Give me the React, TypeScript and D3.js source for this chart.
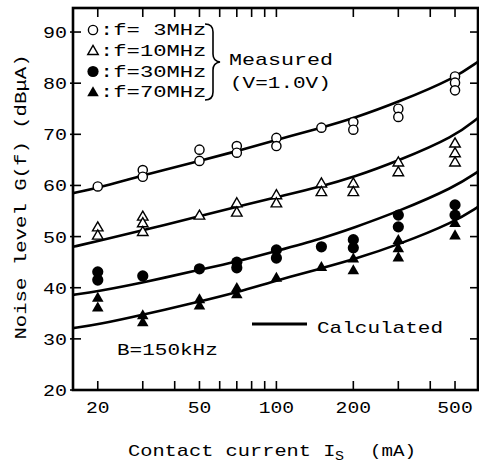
import React from "react";
import * as d3 from "d3";

const W = 479;
const H = 465;
const M = { left: 73, right: 478, top: 8, bottom: 390 };

// measured currents (mA) and levels (dBuA), several repeats per current
const currents = [20, 30, 50, 70, 100, 150, 200, 300, 500];
const meas3 = [[59.8], [63.0, 61.7], [67.0, 64.8], [67.7, 66.4], [69.3, 67.7], [71.3], [72.4, 70.9], [75.0, 73.4], [81.3, 80.1, 78.6]];
const meas10 = [[51.9, 50.3], [54.0, 52.7, 51.0], [54.2], [56.6, 54.8], [58.2, 56.6], [60.5, 58.8], [60.5, 58.8], [64.6, 62.7], [68.3, 66.4, 64.6]];
const meas30 = [[43.1, 41.5], [42.3], [43.7], [45.0, 43.9], [47.4, 45.8], [48.0], [49.4, 47.8], [54.2, 51.9], [56.2, 54.2]];
const meas70 = [[38.1, 36.2], [34.7, 33.3], [37.8, 36.6], [40.0, 38.8], [42.0], [44.1], [45.8, 43.5], [49.4, 47.8, 46.0], [52.7, 50.3]];

// calculated curves
const calcI = [16, 20, 30, 50, 70, 100, 150, 200, 300, 500, 615];
const calc3 = [58.5, 59.5, 62.0, 64.8, 66.7, 68.9, 71.3, 73.1, 76.3, 81.0, 84.2];
const calc10 = [48.0, 49.1, 51.2, 54.0, 55.8, 57.7, 59.8, 61.6, 64.8, 69.6, 73.2];
const calc30 = [38.6, 39.3, 41.0, 43.5, 45.1, 47.2, 49.6, 51.7, 54.9, 59.7, 62.7];
const calc70 = [32.1, 32.8, 34.7, 37.3, 39.1, 41.4, 43.8, 45.5, 48.4, 52.9, 55.8];

const xTicks = [20, 30, 40, 50, 60, 70, 80, 90, 100, 200, 300, 400, 500];
const xLabels = [20, 50, 100, 200, 500];
const yTicks = [20, 30, 40, 50, 60, 70, 80, 90];
const legendLabels = [":f= 3MHz", ":f=10MHz", ":f=30MHz", ":f=70MHz"];

const FONT = "'Courier New', 'Liberation Mono', monospace";

const x = d3.scaleLog().domain([16, 615]).range([M.left, M.right]);
const y = d3.scaleLinear().domain([20, 94.7]).range([M.bottom, M.top]);

const triPath = d3.symbol().type(d3.symbolTriangle).size(48)()!;
const triPathF = d3.symbol().type(d3.symbolTriangle).size(58)()!;

type Kind = "oc" | "ot" | "fc" | "ft";

const Marker = ({ cx, cy, kind }: { cx: number; cy: number; kind: Kind }) => {
  if (kind === "oc") return <circle cx={cx} cy={cy} r={4.6} fill="#fff" stroke="#000" strokeWidth={1.4} />;
  if (kind === "fc") return <circle cx={cx} cy={cy} r={5.6} fill="#000" />;
  if (kind === "ot")
    return <path d={triPath} transform={`translate(${cx},${cy + 1})`} fill="#fff" stroke="#000" strokeWidth={1.4} />;
  return <path d={triPathF} transform={`translate(${cx},${cy + 1})`} fill="#000" />;
};

const T = ({ x, y, s, cw, size = 16, anchor = "start", transform }: any) => (
  <text
    x={x}
    y={y}
    fontFamily={FONT}
    fontSize={size}
    textAnchor={anchor}
    textLength={s.length * cw}
    lengthAdjust="spacingAndGlyphs"
    transform={transform}
    fill="#000"
  >
    {s}
  </text>
);

export default function App() {
  const line = d3
    .line<number>()
    .x((_, i) => x(calcI[i]))
    .y((d) => y(d))
    .curve(d3.curveBasis);

  const series: [number[][], Kind][] = [
    [meas3, "oc"],
    [meas10, "ot"],
    [meas30, "fc"],
    [meas70, "ft"],
  ];
  const legendKinds: Kind[] = ["oc", "ot", "fc", "ft"];
  const legendY = [35, 55.5, 76.5, 97];

  return (
    <svg width={W} height={H} style={{ position: "absolute", left: 0, top: 0, background: "#fff" }}>
      <defs>
        <clipPath id="plot">
          <rect x={M.left} y={M.top} width={M.right - M.left} height={M.bottom - M.top} />
        </clipPath>
      </defs>

      {/* calculated curves */}
      <g clipPath="url(#plot)" fill="none" stroke="#000" strokeWidth={2.6}>
        {[calc3, calc10, calc30, calc70].map((c, i) => (
          <path key={i} d={line(c)!} />
        ))}
      </g>

      {/* measured points */}
      {series.map(([vals, kind], si) => (
        <g key={si}>
          {vals.map((vs, i) => vs.map((v, j) => <Marker key={`${i}-${j}`} cx={x(currents[i])} cy={y(v)} kind={kind} />))}
        </g>
      ))}

      {/* frame */}
      <rect
        x={M.left}
        y={M.top}
        width={M.right - M.left}
        height={M.bottom - M.top}
        fill="none"
        stroke="#000"
        strokeWidth={2.6}
      />

      {/* ticks */}
      <g stroke="#000" strokeWidth={1.6}>
        {xTicks.map((t) => (
          <g key={t}>
            <line x1={x(t)} x2={x(t)} y1={M.bottom} y2={M.bottom - 9} />
            <line x1={x(t)} x2={x(t)} y1={M.top} y2={M.top + 9} />
          </g>
        ))}
        {yTicks.map((t) => (
          <g key={t}>
            <line x1={M.left - 3} x2={M.left + 8} y1={y(t)} y2={y(t)} />
            <line x1={M.right} x2={M.right - 8} y1={y(t)} y2={y(t)} />
          </g>
        ))}
      </g>

      {/* tick labels */}
      {yTicks.map((t) => (
        <T key={t} x={67} y={y(t) + 6} s={String(t)} cw={12} size={17} anchor="end" />
      ))}
      {xLabels.map((t) => (
        <T key={t} x={x(t)} y={413} s={String(t)} cw={11.8} size={17} anchor="middle" />
      ))}

      {/* legend */}
      {legendKinds.map((k, i) => (
        <g key={k}>
          <Marker cx={93} cy={legendY[i] - 5} kind={k} />
          <T x={100} y={legendY[i]} s={legendLabels[i]} cw={13.3} size={17} />
        </g>
      ))}
      <path
        d="M205,24 Q213,24 213,32 L213,54 Q213,61 220,62 Q213,63 213,70 L213,92 Q213,100 205,100"
        fill="none"
        stroke="#000"
        strokeWidth={1.6}
      />
      <T x={229} y={65} s="Measured" cw={13} size={17} />
      <T x={230} y={88} s="(V=1.0V)" cw={12.6} size={17} />

      <line x1={252} x2={307} y1={324} y2={324} stroke="#000" strokeWidth={3} />
      <T x={317} y={333} s="Calculated" cw={12.6} size={17} />
      <T x={117} y={355} s="B=150kHz" cw={12.6} size={17} />

      {/* axis titles */}
      <T x={128} y={456} s="Contact current I" cw={12.2} size={17} />
      <T x={335} y={460} s="S" cw={9} size={12} />
      <T x={370} y={456} s="(mA)" cw={11.5} size={17} />
      <T x={0} y={0} s="Noise level G(f) (dBμA)" cw={12.4} size={17} anchor="middle" transform="translate(26,197) rotate(-90)" />
    </svg>
  );
}
